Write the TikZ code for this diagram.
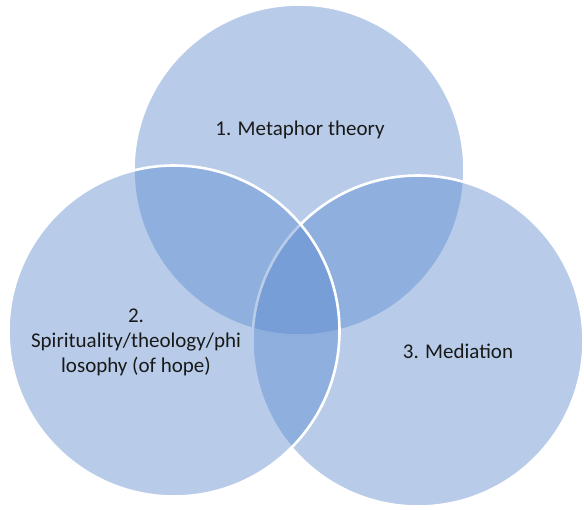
\documentclass[tikz,border=0pt]{standalone}
\usepackage{fontspec}
\setmainfont{Carlito}
\usepackage{tikz}
\usetikzlibrary{positioning}

\definecolor{vennblue}{RGB}{86,134,205}
\definecolor{venntext}{RGB}{25,25,25}

\begin{document}
\begin{tikzpicture}[x=1pt,y=-1pt,
    set node/.style={circle,minimum size=331pt,inner sep=0pt,fill=vennblue,fill opacity=0.42,draw=white,line width=2.6pt},
    set text/.style={font=\fontsize{21}{25}\selectfont,text=venntext,align=center}]
    \useasboundingbox (0,0) rectangle (584,509);

    \node[set node] (metaphor) at (299,170) {};
    \node[set node] (mediation) at (418,341) {};
    \node[set node] (spirit) at (174,331) {};

    \node[set text] (t1) at (300,130) {1. Metaphor theory};
    \node[set text] (t2) at (136,342) {2.\\Spirituality/theology/phi\\losophy (of hope)};
    \node[set text] (t3) at (458,351) {3. Mediation};
  \end{tikzpicture}
\end{document}
